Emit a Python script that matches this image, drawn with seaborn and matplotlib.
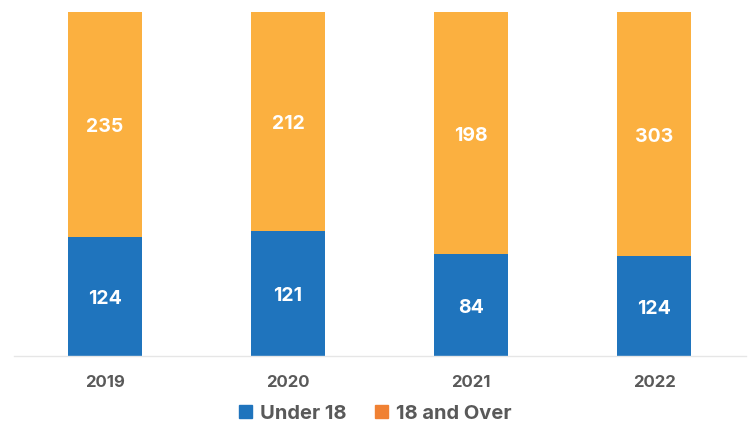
import numpy as np
import pandas as pd
import matplotlib
matplotlib.use("Agg")
import matplotlib.pyplot as plt
from matplotlib.patches import Patch
import seaborn as sns

# data
years = ["2019", "2020", "2021", "2022"]
under_18 = [124, 121, 84, 124]
over_18 = [235, 212, 198, 303]

BLUE = "#1f74bd"
ORANGE_BAR = "#fbb040"
ORANGE_LEGEND = "#f08133"
GRAY = "#595959"

sns.set_theme(style="white")
plt.rcParams['font.family'] = ['Inter', 'DejaVu Sans']

df = pd.DataFrame({"year": years, "under": under_18, "over": over_18})
df["total"] = df["under"] + df["over"]
df["under_share"] = df["under"] / df["total"]
df["full"] = 1.0

fig = plt.figure(figsize=(7.5, 4.23), dpi=100)
ax = fig.add_axes([0.018, 0.1584, 0.976, 0.8132])

# full bar in orange, blue share drawn over it -> 100% stack
sns.barplot(data=df, x="year", y="full", color=ORANGE_BAR, width=0.40,
            saturation=1, linewidth=0, ax=ax)
sns.barplot(data=df, x="year", y="under_share", color=BLUE, width=0.40,
            saturation=1, linewidth=0, ax=ax)

for i, row in df.iterrows():
    ax.text(i, row["under_share"] / 2 - 0.008, f"{row['under']}", ha="center", va="center",
            color="white", fontsize=14, fontweight="bold")
    ax.text(i, row["under_share"] + (1 - row["under_share"]) / 2 - 0.008, f"{row['over']}",
            ha="center", va="center", color="white", fontsize=14, fontweight="bold")

ax.set_xlim(-0.5, 3.5)
ax.set_ylim(0, 1)
ax.set_xlabel("")
ax.set_ylabel("")
ax.set_yticks([])
ax.tick_params(axis="x", length=0, pad=14, labelsize=12, labelcolor=GRAY)
for lab in ax.get_xticklabels():
    lab.set_fontweight("bold")
for s in ["top", "right", "left"]:
    ax.spines[s].set_visible(False)
ax.spines["bottom"].set_color("#e6e6e6")
ax.spines["bottom"].set_linewidth(1)

handles = [Patch(color=BLUE, label="Under 18"), Patch(color=ORANGE_LEGEND, label="18 and Over")]
leg = fig.legend(handles=handles, loc="center", bbox_to_anchor=(0.5, 0.022), ncol=2,
                 frameon=False, fontsize=14.5, handlelength=0.65, handleheight=0.65,
                 handletextpad=0.4, columnspacing=1.4)
for t in leg.get_texts():
    t.set_color(GRAY)
    t.set_fontweight("bold")

fig.savefig("out.png", dpi=100)
